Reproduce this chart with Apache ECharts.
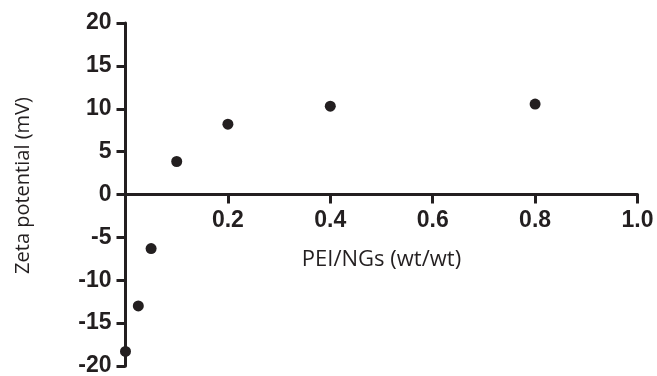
<!DOCTYPE html>
<html><head><meta charset="utf-8">
<script src="https://cdn.jsdelivr.net/npm/echarts@6/dist/echarts.min.js"></script>
<style>html,body{margin:0;padding:0;background:#fff}#c{width:657px;height:376px}</style>
</head><body><div id="c"></div>
<script>
var ratios = [0, 0.025, 0.05, 0.1, 0.2, 0.4, 0.8];
var zeta = [-18.3, -13.0, -6.3, 3.85, 8.2, 10.3, 10.55];
var xTicks = [0.2, 0.4, 0.6, 0.8, 1.0];
var yTicks = [-20, -15, -10, -5, 0, 5, 10, 15, 20];
var xName = 'PEI/NGs (wt/wt)';
var yName = 'Zeta potential (mV)';

var ink = '#231f20';
var gridTop = 23, gridBottom = 10, H = 376;
var plotH = H - gridTop - gridBottom;
// x axis drawn at y = 0 : offset from the bottom of the grid
var zeroOffset = -plotH * (0 - (-20)) / (20 - (-20));

var chart = echarts.init(document.getElementById('c'), null, {renderer: 'canvas'});
chart.setOption({
  animation: false,
  grid: {left: 125.5, right: 19.5, top: gridTop, bottom: gridBottom, containLabel: false, outerBoundsMode: 'none'},
  xAxis: {
    type: 'value', min: 0, max: 1.0, interval: 0.2, position: 'bottom', offset: zeroOffset,
    name: xName, nameLocation: 'middle', nameGap: 54,
    nameTextStyle: {fontFamily: 'Open Sans', fontSize: 22, color: ink},
    axisLine: {onZero: false, lineStyle: {color: ink, width: 3}},
    axisTick: {show: true, length: 9, lineStyle: {color: ink, width: 3}},
    axisLabel: {showMinLabel: false, margin: 15, fontFamily: 'Liberation Sans', fontWeight: 'bold', fontSize: 23, color: ink,
      formatter: function(v){ return v.toFixed(1); }},
    splitLine: {show: false}
  },
  yAxis: {
    type: 'value', min: -20, max: 20, interval: 5,
    name: yName, nameLocation: 'middle', nameGap: 92, nameRotate: 90,
    nameTextStyle: {fontFamily: 'Open Sans', fontSize: 20, color: ink, padding: [0, 0, 0, 18]},
    axisLine: {onZero: false, lineStyle: {color: ink, width: 3}},
    axisTick: {show: true, length: 9, lineStyle: {color: ink, width: 3}},
    axisLabel: {margin: 14, fontFamily: 'Liberation Sans', fontWeight: 'bold', fontSize: 23, color: ink},
    splitLine: {show: false}
  },
  series: [{
    type: 'scatter',
    data: ratios.map(function(x, i){ return [x, zeta[i]]; }),
    symbol: 'circle', symbolSize: 11,
    itemStyle: {color: ink, opacity: 1},
    clip: false
  }]
});
</script></body></html>
